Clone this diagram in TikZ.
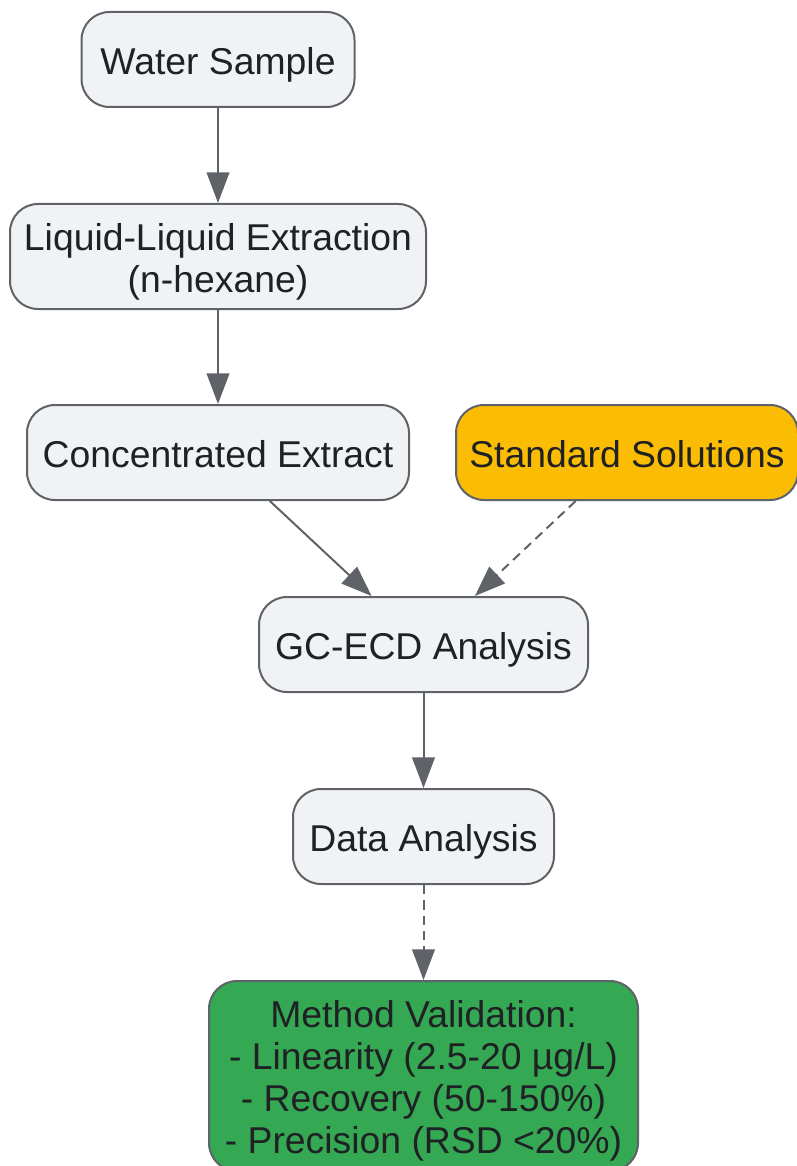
\documentclass[tikz,border=0pt]{standalone}
\usepackage{fontspec}
\setmainfont{Liberation Sans}
\usepackage{xcolor}
\usetikzlibrary{arrows.meta}

\definecolor{boxgray}{HTML}{F1F2F4}
\definecolor{linegray}{HTML}{5F6368}
\definecolor{textdark}{HTML}{202124}
\definecolor{stdyellow}{HTML}{FBBC04}
\definecolor{valgreen}{HTML}{34A853}

\newcommand{\boxstrut}{\rule{0pt}{28pt}}

\tikzset{
  stepbox/.style={draw=linegray, line width=1.5pt, fill=boxgray, rounded corners=21pt,
    inner sep=0pt, minimum height=71.25pt, align=center, text=textdark, text depth=5.6pt,
    font=\fontsize{28}{31.5}\selectfont},
  flow/.style={draw=linegray, line width=1.5pt, -{Triangle[length=23pt,width=17pt]}},
  weak/.style={flow, dash pattern=on 7pt off 4.5pt}
}

\begin{document}
\begin{tikzpicture}[x=0.75pt,y=-0.75pt]
   \useasboundingbox (0,0) rectangle (796,1166);
   \node[stepbox, minimum width=204.75pt] (water) at (218,59.5) {\boxstrut Water Sample};
   \node[stepbox, minimum width=312pt, minimum height=78.75pt] (lle) at (218,256.5) {\boxstrut Liquid-Liquid Extraction\\(n-hexane)};
   \node[stepbox, minimum width=286.5pt] (extract) at (218,452.5) {\boxstrut Concentrated Extract};
   \node[stepbox, fill=stdyellow, minimum width=256.5pt] (std) at (627,452.5) {\boxstrut Standard Solutions};
   \node[stepbox, minimum width=246.75pt] (gc) at (423.5,644.5) {\boxstrut GC-ECD Analysis};
   \node[stepbox, minimum width=195.75pt] (data) at (423.5,836.5) {\boxstrut Data Analysis};
   \node[stepbox, fill=valgreen, minimum width=321.75pt, minimum height=142.5pt] (valid) at (423.5,1076)
     {\boxstrut Method Validation:\\- Linearity (2.5-20 µg/L)\\- Recovery (50-150\%)\\- Precision (RSD <20\%)};
   \draw[flow] (water) -- (lle);
   \draw[flow] (lle) -- (extract);
   \draw[flow] (extract) -- (gc);
   \draw[weak] (std) -- (gc);
   \draw[flow] (gc) -- (data);
   \draw[weak] (data) -- (valid);
\end{tikzpicture}
\end{document}
